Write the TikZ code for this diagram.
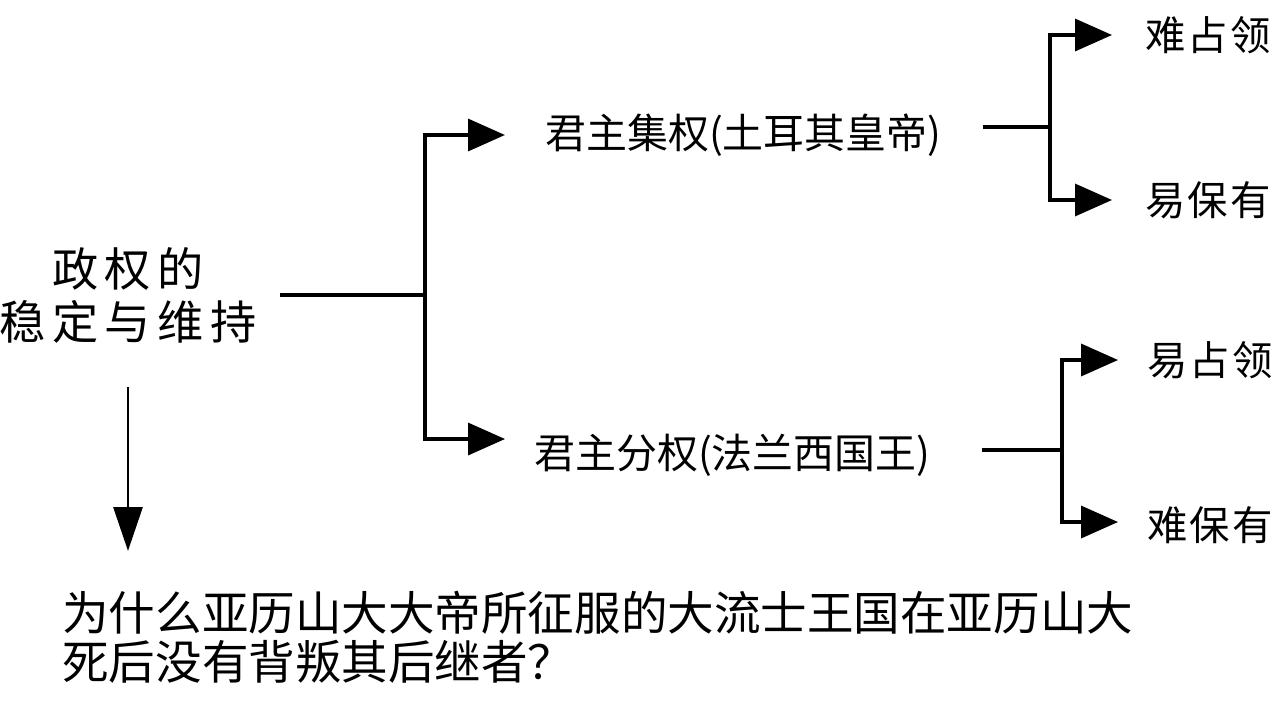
\documentclass[tikz,border=0pt]{standalone}
\usepackage{fontspec}
\setmainfont{Noto Sans CJK SC}
\newfontfamily\rootfont[LetterSpace=14]{Noto Sans CJK SC}
\newfontfamily\sidefont[LetterSpace=5]{Noto Sans CJK SC}
\newfontfamily\qfont[LetterSpace=0]{Noto Sans CJK SC}
\usetikzlibrary{arrows.meta}
\tikzset{
  conn/.style={line width=1.9pt, draw=black},
  arr/.style={conn, -{Triangle[length=21pt,width=18.2pt]}},
  darr/.style={conn, line width=1.7pt, -{Triangle[length=25pt,width=16.5pt]}},
  rootbox/.style={inner sep=0pt, minimum width=173pt, minimum height=104.7pt, align=center,
    font=\rootfont\fontsize{26.3pt}{30.2pt}\selectfont},
  midbox/.style={inner sep=0pt, anchor=west, font=\fontsize{23.3pt}{27pt}\selectfont},
  leafbox/.style={inner sep=0pt, anchor=west, font=\sidefont\fontsize{23pt}{26pt}\selectfont},
  qbox/.style={inner sep=0pt, anchor=north west, align=left,
    font=\qfont\fontsize{26.5pt}{27.9pt}\selectfont},
}
\begin{document}
\begin{tikzpicture}[x=0.02cm, y=-0.02cm]
\useasboundingbox (0,0) rectangle (1280,703);
% nodes
\node[rootbox] (root) at (128,295) {政权的\\稳定与维持};
\node[midbox] (top) at (545,135) {君主集权(土耳其皇帝)};
\node[midbox] (bot) at (534,455) {君主分权(法兰西国王)};
\node[leafbox] (r1) at (1145,35) {难占领};
\node[leafbox] (r2) at (1145,200) {易保有};
\node[leafbox] (r3) at (1147,360) {易占领};
\node[leafbox] (r4) at (1147,525) {难保有};
\node[qbox] (q) at (62,591) {为什么亚历山大大帝所征服的大流士王国在亚历山大\\死后没有背叛其后继者？};
% junctions
\coordinate (j1) at (425,295);
\coordinate (j2) at (1050,127);
\coordinate (j3) at (1062,450);
% connectors
\draw[conn] (root.east) -- (j1);
\draw[arr, shorten >=22.8pt] (j1) |- (top.west);
\draw[arr, shorten >=16.5pt] (j1) |- ([yshift=9.1pt]bot.west);
\draw[conn, shorten <=23.3pt] (top.east |- j2) -- (j2);
\draw[conn, shorten <=29pt] (bot.east |- j3) -- (j3);
\draw[arr, shorten >=18.8pt] (j2) |- (r1.west);
\draw[arr, shorten >=18.8pt] (j2) |- (r2.west);
\draw[arr, shorten >=16.5pt] (j3) |- (r3.west);
\draw[arr, shorten >=16.5pt] (j3) |- ([yshift=1.7pt]r4.west);
\draw[darr, shorten >=22.8pt] (root.south) -- (q.north -| root.south);
\end{tikzpicture}
\end{document}
